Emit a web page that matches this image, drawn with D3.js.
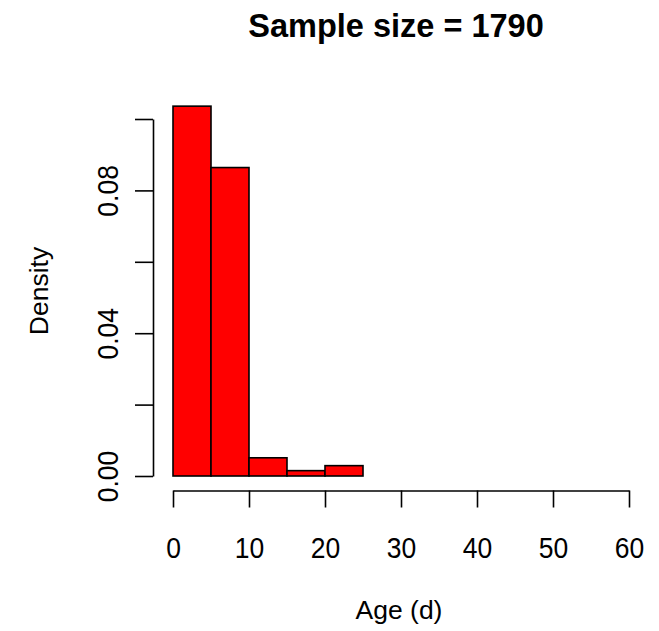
<!DOCTYPE html>
<html>
<head>
<meta charset="utf-8">
<script src="https://cdn.jsdelivr.net/npm/d3@7"></script>
<style>
  html, body { margin: 0; padding: 0; background: #fff; }
  svg { display: block; }
  text { font-family: "Liberation Sans", Arial, sans-serif; fill: #000; }
</style>
</head>
<body>
<svg id="chart" width="659" height="631"></svg>
<script>
// ---- data ----
const binStarts = [0, 5, 10, 15, 20, 25, 30, 35, 40, 45, 50, 55];
const binWidth = 5;
const densities = [0.1036, 0.0864, 0.0051, 0.0015, 0.0029, 0, 0, 0, 0, 0, 0, 0];
const xTicks = [0, 10, 20, 30, 40, 50, 60];
const yTicks = [0, 0.02, 0.04, 0.06, 0.08, 0.10];
const yTickLabels = ["0.00", "", "0.04", "", "0.08", ""];
const titleText = "Sample size = 1790";
const xLabel = "Age (d)";
const yLabel = "Density";

// ---- layout ----
const svg = d3.select("#chart");
const x = d3.scaleLinear().domain([0, 60]).range([173, 629]);
const y = d3.scaleLinear().domain([0, 0.10]).range([476, 119]);
const xAxisY = 490.5;
const yAxisX = 153;
const fs = 26.5;
const stretch = 1.1;

// bars
svg.append("g").selectAll("rect")
  .data(binStarts.map((s, i) => ({ s, d: densities[i] })))
  .join("rect")
  .attr("x", d => x(d.s))
  .attr("y", d => y(d.d))
  .attr("width", d => x(d.s + binWidth) - x(d.s))
  .attr("height", d => y(0) - y(d.d))
  .attr("fill", "#ff0000")
  .attr("stroke", "#000")
  .attr("stroke-width", 1.6);

// x axis
const gx = svg.append("g")
  .attr("transform", `translate(0,${xAxisY})`)
  .call(d3.axisBottom(x).tickValues(xTicks).tickSize(17).tickSizeOuter(0).tickPadding(0).tickFormat(d3.format("d")));
gx.select(".domain").attr("stroke", "#000").attr("stroke-width", 1.6);
gx.selectAll(".tick line").attr("stroke", "#000").attr("stroke-width", 1.6);
gx.selectAll(".tick text")
  .attr("y", (558 - xAxisY) / stretch).attr("dy", 0)
  .attr("transform", `scale(1,${stretch})`)
  .style("font-size", fs + "px")
  .style("font-family", '"Liberation Sans", Arial, sans-serif')
  .attr("fill", "#000");

// y axis
const gy = svg.append("g")
  .attr("transform", `translate(${yAxisX},0)`)
  .call(d3.axisLeft(y).tickValues(yTicks).tickSize(18).tickSizeOuter(0).tickFormat((d, i) => yTickLabels[i]));
gy.select(".domain").attr("stroke", "#000").attr("stroke-width", 1.6);
gy.selectAll(".tick line").attr("stroke", "#000").attr("stroke-width", 1.6);
gy.selectAll(".tick text")
  .attr("x", 0).attr("dy", 0)
  .attr("y", -(yAxisX - 117.5) / stretch)
  .attr("transform", `rotate(-90) scale(1,${stretch})`)
  .attr("text-anchor", "middle")
  .style("font-size", fs + "px")
  .style("font-family", '"Liberation Sans", Arial, sans-serif')
  .attr("fill", "#000");

// title
svg.append("text")
  .attr("x", 396).attr("y", 36.5)
  .attr("text-anchor", "middle")
  .style("font-size", "32.5px")
  .style("font-weight", "bold")
  .text(titleText);

// x label
svg.append("text")
  .attr("x", 399).attr("y", 619)
  .attr("text-anchor", "middle")
  .style("font-size", fs + "px")
  .text(xLabel);

// y label
svg.append("text")
  .attr("transform", `translate(48,291) rotate(-90)`)
  .attr("text-anchor", "middle")
  .style("font-size", fs + "px")
  .text(yLabel);
</script>
</body>
</html>
